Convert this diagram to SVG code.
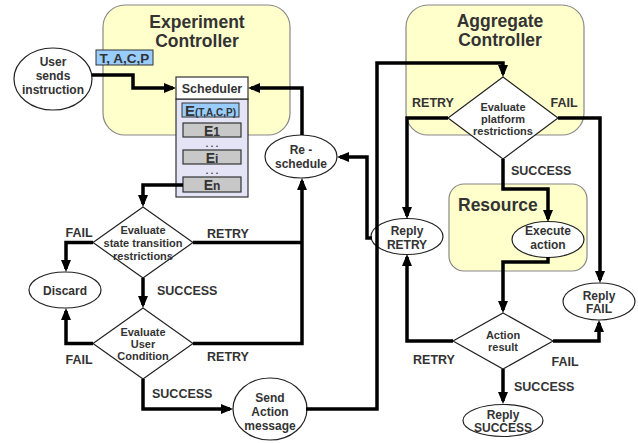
<svg xmlns="http://www.w3.org/2000/svg" width="638" height="443" viewBox="0 0 638 443">
<style>
text{font-family:"Liberation Sans",Arial,sans-serif;font-weight:bold;fill:#333;text-anchor:middle}
.title{font-size:17.5px}
.n{font-size:12px}
.d{font-size:11px}
.lbl{font-size:12.5px}
.box{fill:#ffffcc;stroke:#888;stroke-width:1.2}
.el{fill:#fff;stroke:#222;stroke-width:1.2}
.dia{fill:#fff;stroke:#222;stroke-width:1.2}
.c{fill:none;stroke:#000;stroke-width:3.5;marker-end:url(#ah)}
.cn{fill:none;stroke:#000;stroke-width:3.5}
.gray{fill:#c8c8c8;stroke:#333;stroke-width:1.2}
.e{font-size:14px}
.dots{font-size:9px}
</style>
<defs>
<marker id="ah" viewBox="0 0 12 10" refX="9" refY="5" markerWidth="12" markerHeight="10" markerUnits="userSpaceOnUse" orient="auto">
<path d="M0,0 L12,5 L0,10 Z" fill="#000"/>
</marker>
</defs>

<g id="experiment-controller">
<rect class="box" x="103" y="5" width="187" height="130" rx="22"/>
<text class="title" x="197" y="28">Experiment</text>
<text class="title" x="197" y="47">Controller</text>
</g>
<g id="tacp">
<rect x="96" y="50" width="57" height="15" fill="#99ccff" stroke="#333" stroke-width="1"/>
<text x="124.5" y="62.5" style="font-size:13.5px">T, A,C,P</text>
</g>
<g id="aggregate-controller">
<rect class="box" x="406" y="5" width="178" height="130" rx="22"/>
<text class="title" x="500" y="27">Aggregate</text>
<text class="title" x="500" y="46">Controller</text>
</g>
<g id="resource">
<rect class="box" x="449" y="184" width="138" height="87" rx="15"/>
<text class="title" x="458" y="211" style="text-anchor:start">Resource</text>
</g>

<g id="user">
<ellipse class="el" cx="53" cy="79" rx="39" ry="31"/>
<text class="n" x="53" y="66">User</text>
<text class="n" x="53" y="80">sends</text>
<text class="n" x="53" y="94">instruction</text>
</g>

<g id="scheduler">
<rect x="176" y="99" width="72" height="98" fill="#e4e4f6" stroke="#333" stroke-width="1.2"/>
<rect x="176" y="77" width="72" height="22" fill="#fff" stroke="#333" stroke-width="1.2"/>
<text x="212" y="93" style="font-size:12.5px">Scheduler</text>
<rect x="182" y="103" width="57" height="14" fill="#99ccff" stroke="#333" stroke-width="1"/>
<text x="210.5" y="115.5"><tspan style="font-size:15px">E</tspan><tspan style="font-size:10px">(T,A,C,P)</tspan></text>
<rect class="gray" x="183" y="123" width="58" height="14"/>
<text class="e" x="212" y="135.5">E<tspan style="font-size:12px">1</tspan></text>
<text class="dots" x="212" y="147">. . .</text>
<rect class="gray" x="183" y="150" width="58" height="14"/>
<text class="e" x="212" y="162.5">E<tspan style="font-size:12px">i</tspan></text>
<text class="dots" x="212" y="174">. . .</text>
<rect class="gray" x="183" y="177" width="58" height="15"/>
<text class="e" x="212" y="190">E<tspan style="font-size:12px">n</tspan></text>
</g>

<g id="reschedule">
<ellipse class="el" cx="301" cy="156.5" rx="36" ry="21.5"/>
<text class="n" x="301" y="154">Re -</text>
<text class="n" x="301" y="167.5">schedule</text>
</g>

<g id="eval-state">
<polygon class="dia" points="143,207 193,242.5 143,278 93,242.5"/>
<text class="d" x="143" y="234">Evaluate</text>
<text class="d" x="143" y="247">state transition</text>
<text class="d" x="143" y="260">restrictions</text>
</g>

<g id="discard">
<ellipse class="el" cx="65" cy="290" rx="36" ry="18"/>
<text class="n" x="65" y="294.5">Discard</text>
</g>

<g id="eval-user">
<polygon class="dia" points="143,308 193,343.5 143,379 93,343.5"/>
<text class="d" x="143" y="336">Evaluate</text>
<text class="d" x="143" y="348">User</text>
<text class="d" x="143" y="360">Condition</text>
</g>

<g id="send-action">
<ellipse class="el" cx="270" cy="409" rx="37" ry="31"/>
<text class="n" x="270" y="401.5">Send</text>
<text class="n" x="270" y="416">Action</text>
<text class="n" x="270" y="430">message</text>
</g>

<g id="eval-platform">
<polygon class="dia" points="503,77 558,118 503,159 448,118"/>
<text class="d" x="503" y="111">Evaluate</text>
<text class="d" x="503" y="122.5">platform</text>
<text class="d" x="503" y="135">restrictions</text>
</g>

<g id="reply-retry">
<ellipse class="el" cx="407" cy="236.5" rx="36" ry="18"/>
<text class="n" x="407" y="234.5">Reply</text>
<text class="n" x="407" y="248.5">RETRY</text>
</g>

<g id="execute-action">
<ellipse class="el" cx="548" cy="239.5" rx="36" ry="18"/>
<text class="n" x="548" y="234.5">Execute</text>
<text class="n" x="548" y="248.5">action</text>
</g>

<g id="reply-fail">
<ellipse class="el" cx="599" cy="301.5" rx="36" ry="18.5"/>
<text class="n" x="599" y="299.5">Reply</text>
<text class="n" x="599" y="312.5">FAIL</text>
</g>

<g id="action-result">
<polygon class="dia" points="503,313 553,341 503,369 453,341"/>
<text class="d" x="503" y="339">Action</text>
<text class="d" x="503" y="351">result</text>
</g>

<g id="reply-success">
<ellipse class="el" cx="503" cy="420.5" rx="40" ry="16"/>
<text class="n" x="503" y="419">Reply</text>
<text class="n" x="503" y="432">SUCCESS</text>
</g>

<g id="connectors">
<path class="c" d="M92,75 H133 V88 H173"/>
<path class="c" d="M302,135 V88 H251"/>
<path class="c" d="M183,185 H143 V204"/>
<path class="c" d="M93,242.5 H66 V269"/>
<path class="cn" d="M193,242.5 H302"/>
<path class="c" d="M143,278 V305"/>
<path class="c" d="M93,343.5 H66 V311"/>
<path class="c" d="M193,343.5 H302 V181"/>
<path class="c" d="M143,379 V409 H230"/>
<path class="c" d="M306,409 H377 V63 H503 V74"/>
<path class="c" d="M448,118 H407 V216"/>
<path class="c" d="M372,238 H367 V157 H340"/>
<path class="c" d="M558,118 H600 V280"/>
<path class="c" d="M503,159 V189 H548 V219"/>
<path class="c" d="M548,257 V262 H503 V310"/>
<path class="c" d="M453,341 H407 V257"/>
<path class="c" d="M553,341 H599 V323"/>
<path class="c" d="M503,369 V401"/>
</g>

<g id="labels">
<text class="lbl" x="79" y="236.5">FAIL</text>
<text class="lbl" x="228" y="237.5">RETRY</text>
<text class="lbl" x="157" y="294.5" style="text-anchor:start">SUCCESS</text>
<text class="lbl" x="79" y="363.5">FAIL</text>
<text class="lbl" x="228" y="360.5">RETRY</text>
<text class="lbl" x="152" y="397.5" style="text-anchor:start">SUCCESS</text>
<text class="lbl" x="433" y="106.5">RETRY</text>
<text class="lbl" x="564" y="106.5">FAIL</text>
<text class="lbl" x="511" y="174.5" style="text-anchor:start">SUCCESS</text>
<text class="lbl" x="434" y="363.5">RETRY</text>
<text class="lbl" x="565" y="365.5">FAIL</text>
<text class="lbl" x="514" y="390.5" style="text-anchor:start">SUCCESS</text>
</g>
</svg>
